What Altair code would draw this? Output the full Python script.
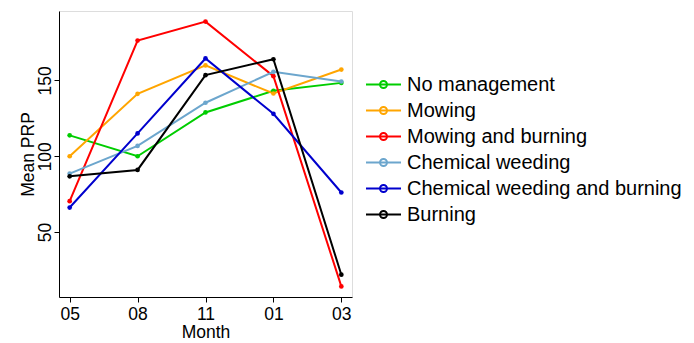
import altair as alt
import pandas as pd

months = ["05", "08", "11", "01", "03"]
treatments = ["No management", "Mowing", "Mowing and burning", "Chemical weeding",
              "Chemical weeding and burning", "Burning"]
colors = ["#00CD00", "#FFA500", "#FF0000", "#6CA6CD", "#0000CD", "#000000"]

no_management = [113.8, 100.0, 128.9, 143.2, 148.4]
mowing = [100.0, 141.2, 159.9, 141.4, 157.2]
mowing_burning = [70.4, 176.3, 188.8, 152.8, 14.2]
chemical = [88.6, 106.8, 135.3, 155.7, 149.3]
chemical_burning = [66.2, 115.1, 164.5, 128.0, 76.1]
burning = [86.8, 91.0, 153.5, 164.0, 21.9]

series = [no_management, mowing, mowing_burning, chemical, chemical_burning, burning]
rows = []
for t, vals in zip(treatments, series):
    for m, v in zip(months, vals):
        rows.append({"Month": m, "Treatment": t, "Group": t, "PRP": v})
df = pd.DataFrame(rows)

FONT = "Liberation Sans"

legend_path = ("M-1.7,0L1.7,0M0.34,0A0.34,0.34,0,1,1,-0.34,0"
               "A0.34,0.34,0,1,1,0.34,0")

x_enc = alt.X("Month:O", sort=months,
              scale=alt.Scale(type="point", padding=0.157),
              axis=alt.Axis(title="Month", labelAngle=0, labelFontSize=17.5,
                            titleFontSize=17.5, labelPadding=3, titlePadding=1,
                            tickSize=5, domainColor="#000", tickColor="#000",
                            labelColor="#000", titleColor="#000",
                            labelFont=FONT, titleFont=FONT, titleFontWeight="normal",
                            grid=False))
y_enc = alt.Y("PRP:Q",
              scale=alt.Scale(domain=[7.2, 195.8], nice=False, zero=False),
              axis=alt.Axis(title="Mean PRP", values=[50, 100, 150], labelAngle=-90,
                            labelAlign="center", labelBaseline="alphabetic",
                            labelFontSize=17.5, titleFontSize=17.5, labelPadding=4,
                            titleX=-25.7, titleAngle=-90, titleBaseline="alphabetic",
                            tickSize=5, domainColor="#000",
                            tickColor="#000", labelColor="#000", titleColor="#000",
                            labelFont=FONT, titleFont=FONT, titleFontWeight="normal",
                            grid=False))
color_enc = alt.Color("Treatment:N", sort=treatments,
                      scale=alt.Scale(domain=treatments, range=colors),
                      legend=alt.Legend(title=None, orient="none", legendX=313,
                                        legendY=62, symbolType=legend_path,
                                        symbolSize=424, symbolStrokeWidth=2,
                                        symbolFillColor="transparent",
                                        labelFontSize=20, labelFont=FONT,
                                        labelColor="#000", labelLimit=400,
                                        labelOffset=12, rowPadding=4))

lines = alt.Chart(df).mark_line(strokeWidth=2).encode(x=x_enc, y=y_enc, color=color_enc)
points = alt.Chart(df).mark_circle(size=22, opacity=1).encode(
    x=x_enc, y=y_enc, fill=alt.Fill("Group:N", sort=treatments,
                                    scale=alt.Scale(domain=treatments, range=colors),
                                    legend=None))

chart = (lines + points).properties(
    width=293, height=286,
    autosize=alt.AutoSizeParams(type="none"),
    padding={"left": 51, "top": 3, "right": 334, "bottom": 44},
).resolve_scale(color="independent", fill="independent").configure_view(
    stroke="#222", strokeWidth=1).configure(background="white")

chart.save("out.html", embed_options={"renderer": "svg", "actions": False})
